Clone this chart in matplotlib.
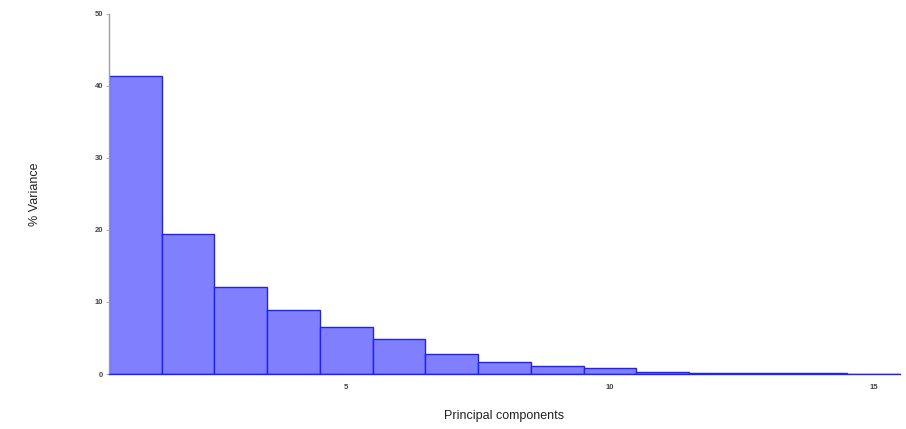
import numpy as np
import matplotlib
matplotlib.use("Agg")
import matplotlib.pyplot as plt

# % variance explained per principal component
components = np.arange(1, 16)
variance = [41.4, 19.4, 12.1, 8.9, 6.5, 4.9, 2.8, 1.7, 1.1, 0.9,
            0.3, 0.2, 0.15, 0.1, 0.05]

plt.rcParams["font.family"] = ["Liberation Sans", "DejaVu Sans"]

fig = plt.figure(figsize=(9.06, 4.29), dpi=100)
ax = fig.add_axes([0.1203, 0.1282, 0.8731, 0.8392])

ax.bar(components, variance, width=1.0, color="#8080ff",
       edgecolor="#2020ff", linewidth=1.0)

ax.set_xlim(0.5, 15.5)
ax.set_ylim(0, 50)
ax.set_xticks([5, 10, 15])
ax.set_yticks([0, 10, 20, 30, 40, 50])

for side in ("top", "right"):
    ax.spines[side].set_visible(False)
ax.spines["bottom"].set_color("#2020ff")
ax.spines["bottom"].set_linewidth(1.0)
ax.spines["left"].set_color("#a0a0a0")
ax.spines["left"].set_linewidth(1.0)

ax.tick_params(axis="y", length=2, width=0.6, color="#a0a0a0", pad=2,
               labelsize=5.5, labelcolor="#444444")
ax.tick_params(axis="x", length=0, pad=7, labelsize=5.5, labelcolor="#444444")
for lab in ax.get_xticklabels() + ax.get_yticklabels():
    lab.set_fontweight("bold")

ax.set_ylabel("% Variance", fontsize=9, color="#222222")
ax.yaxis.set_label_coords(-0.094, 0.5)
ax.set_xlabel("Principal components", fontsize=9, color="#222222")
ax.xaxis.set_label_coords(0.5, -0.117)
ax.xaxis.label.set_verticalalignment("center")
ax.yaxis.label.set_verticalalignment("center")

fig.savefig("out.png", dpi=100)
